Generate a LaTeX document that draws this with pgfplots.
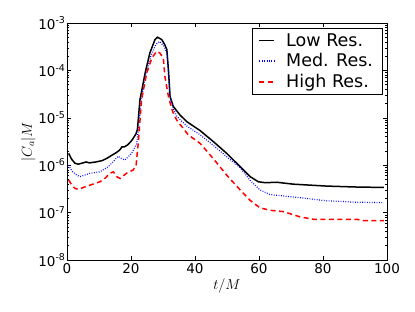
\documentclass[border=0pt]{standalone}
\usepackage{pgfplots}
\pgfplotsset{compat=1.18}
\usepackage{fontspec}
\setmainfont{DejaVu Sans}
\begin{document}
\begin{tikzpicture}
\begin{axis}[
  scale only axis, width=320pt, height=237pt,
  at={(0,0)}, anchor=south west,
  xmin=0, xmax=100, ymin=1e-8, ymax=1e-3, ymode=log,
  xtick={0,20,40,60,80,100},
  ytick={1e-8,1e-7,1e-6,1e-5,1e-4,1e-3},
  yticklabels={10\textsuperscript{-8},10\textsuperscript{-7},10\textsuperscript{-6},10\textsuperscript{-5},10\textsuperscript{-4},10\textsuperscript{-3}},
  /pgf/number format/assume math mode=true,
  tick label style={font=\fontsize{13.5}{15}\selectfont},
  yticklabel style={xshift=2pt},
  tick align=inside,
  major tick length=4pt, minor tick length=2pt,
  tick style={black, line width=0.5pt},
  axis line style={line width=0.8pt},
  xlabel={$t/M$}, ylabel={$|C_a|M$},
  label style={font=\fontsize{14}{16}\selectfont},
  xlabel style={yshift=2pt},
  ylabel style={yshift=-4pt},
  legend style={at={(0.985,0.978)}, anchor=north east, draw=black,
    font=\fontsize{17.5}{20}\selectfont, row sep=2pt, inner xsep=7pt, inner ysep=3pt},
  legend cell align=left,
  legend image code/.code={\draw[#1] (1pt,0pt) -- (16pt,0pt); \path (25pt,0pt);},
]
\addplot[black, line width=1.5pt] coordinates {
(0.5,1.78e-6) (1.5,1.32e-6) (2.5,1.10e-6) (3.5,1.05e-6) (5,1.12e-6) (6,1.17e-6) (7,1.12e-6)
(9,1.17e-6) (11,1.25e-6) (12.5,1.40e-6) (14,1.62e-6) (15.5,1.86e-6) (16.5,2.10e-6) (17.2,2.45e-6)
(18,2.45e-6) (19,2.70e-6) (20.2,3.30e-6) (21.5,4.50e-6) (22,5.62e-6) (22.8,2.40e-5) (24.4,8.71e-5)
(25.9,2.34e-4) (27.5,4.47e-4) (28.3,5.01e-4) (29.6,4.47e-4) (30.5,3.55e-4) (31.2,2.75e-4)
(31.7,1.02e-4) (32.2,2.82e-5) (33.2,1.74e-5) (35.3,1.15e-5) (37.4,8.32e-6) (41.6,5.37e-6)
(45.7,3.16e-6) (49.9,1.78e-6) (54.1,9.33e-7) (57.2,5.75e-7) (59.8,4.47e-7) (62,4.27e-7)
(65.5,4.37e-7) (70.7,3.98e-7) (81,3.63e-7) (90,3.47e-7) (99,3.39e-7)
};
\addlegendentry{Low Res.}
\addplot[blue, line width=1.2pt, dash pattern=on 0.8pt off 1.6pt] coordinates {
(0.5,1.0e-6) (1.5,7.59e-7) (3,6.17e-7) (4.1,5.75e-7) (7.2,6.76e-7) (10.3,7.24e-7) (12.9,9.33e-7)
(14.5,1.20e-6) (16,1.55e-6) (17,1.38e-6) (18.1,1.29e-6) (20.2,1.78e-6) (21.8,2.88e-6) (22.5,7.76e-6)
(23.2,2.40e-5) (24.6,7.94e-5) (26.2,2.00e-4) (27.8,3.55e-4) (29,4.07e-4) (30.2,3.31e-4)
(31.2,2.34e-4) (31.7,8.91e-5) (32.2,2.82e-5) (33.2,1.58e-5) (34.3,1.07e-5) (37.4,6.76e-6)
(41.6,4.37e-6) (45.7,2.63e-6) (49.9,1.51e-6) (54.1,8.91e-7) (57.2,4.79e-7) (60.3,3.02e-7)
(63.4,2.40e-7) (70.7,2.14e-7) (81,1.78e-7) (90,1.66e-7) (99,1.62e-7)
};
\addlegendentry{Med. Res.}
\addplot[red, line width=1.5pt, dash pattern=on 5pt off 3.5pt] coordinates {
(0.5,4.90e-7) (1.5,3.80e-7) (2.5,3.24e-7) (3.5,3.09e-7) (5.5,3.47e-7) (7.2,3.80e-7) (10.3,4.47e-7)
(12,5.37e-7) (13.4,6.76e-7) (14.5,7.24e-7) (15.5,5.75e-7) (16.6,5.25e-7) (18.6,6.76e-7)
(20.7,7.94e-7) (21.6,1.0e-6) (22.3,3.16e-6) (23.3,2.40e-5) (24.9,8.71e-5) (26.5,1.82e-4)
(28,2.51e-4) (29,2.34e-4) (30.1,1.82e-4) (30.6,7.41e-5) (31.7,2.82e-5) (32.7,1.58e-5)
(33.2,1.26e-5) (34.3,8.91e-6) (37.9,4.37e-6) (41.6,2.88e-6) (45.7,1.38e-6) (49.9,6.17e-7)
(54.1,3.02e-7) (57.2,1.82e-7) (60.3,1.26e-7) (63.4,1.12e-7) (67.6,1.05e-7) (72.8,8.13e-8)
(77,7.24e-8) (84.3,7.24e-8) (90.5,7.24e-8) (92.6,6.76e-8) (99,6.76e-8)
};
\addlegendentry{High Res.}
\end{axis}
\pgfresetboundingbox
\path[use as bounding box] (-67pt,-52pt) rectangle (348pt,260pt);
\end{tikzpicture}
\end{document}
